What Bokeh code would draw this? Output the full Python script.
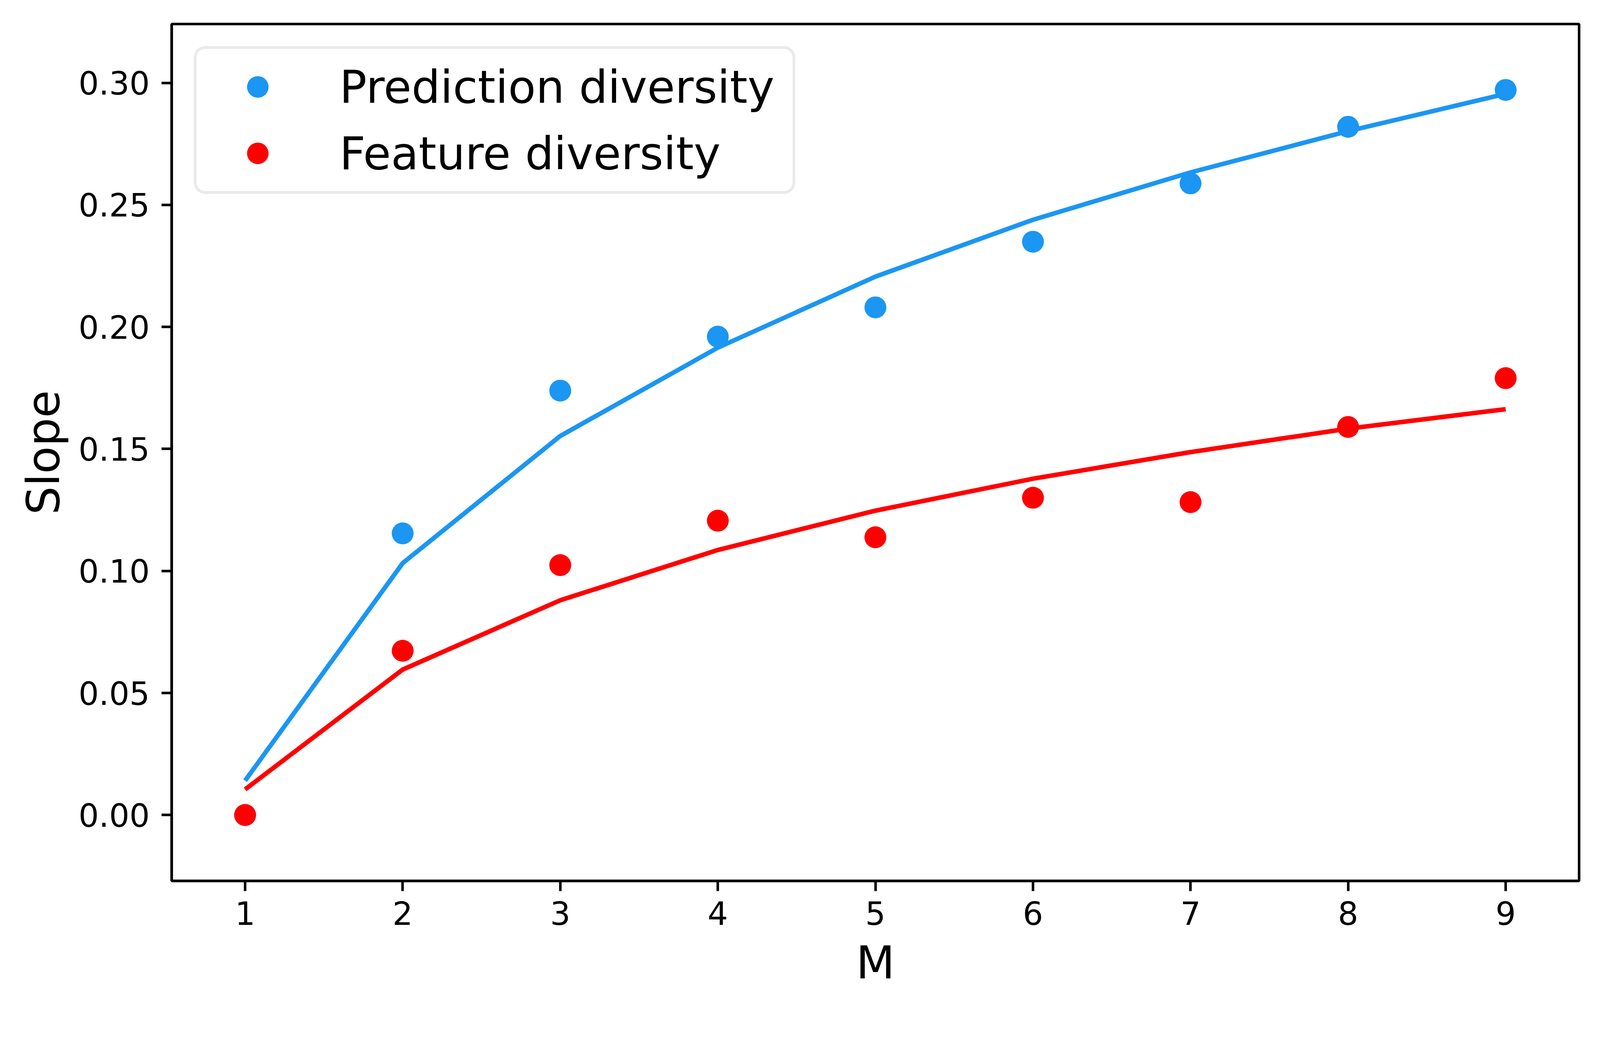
from bokeh.plotting import figure
from bokeh.models import Range1d, FixedTicker, PrintfTickFormatter
from bokeh.embed import file_html
from bokeh.resources import INLINE

# ---- data ----
M = [1, 2, 3, 4, 5, 6, 7, 8, 9]
pred_points = [0.0, 0.1154, 0.1739, 0.1960, 0.2080, 0.2349, 0.2588, 0.2820, 0.2971]
feat_points = [0.0, 0.0673, 0.1024, 0.1206, 0.1138, 0.1300, 0.1282, 0.1590, 0.1790]
pred_fit = [0.0141, 0.1032, 0.1553, 0.1915, 0.2206, 0.2439, 0.2633, 0.2802, 0.2955]
feat_fit = [0.0105, 0.0596, 0.0880, 0.1086, 0.1247, 0.1378, 0.1487, 0.1583, 0.1663]
x_ticks = [1, 2, 3, 4, 5, 6, 7, 8, 9]
y_ticks = [0.0, 0.05, 0.10, 0.15, 0.20, 0.25, 0.30]
series_labels = ["Prediction diversity", "Feature diversity"]
x_label = "M"
y_label = "Slope"

BLUE = "#1B96F3"
RED = "#FF0000"
FONT = "DejaVu Sans"

p = figure(width=4060, height=2560,
           x_range=Range1d(0.534, 9.466), y_range=Range1d(-0.027, 0.3241),
           output_backend="svg", toolbar_location=None,
           min_border_left=439, min_border_right=18,
           min_border_top=61, min_border_bottom=306)

p.background_fill_color = "white"
p.border_fill_color = "white"
p.xgrid.visible = False
p.ygrid.visible = False
p.outline_line_color = "black"
p.outline_line_width = 6.5
p.outline_line_alpha = 1

p.xaxis.ticker = FixedTicker(ticks=x_ticks)
p.yaxis.ticker = FixedTicker(ticks=y_ticks)
p.xaxis.formatter = PrintfTickFormatter(format="%d")
p.yaxis.formatter = PrintfTickFormatter(format="%.2f")
p.xaxis.axis_label = x_label
p.yaxis.axis_label = y_label

for ax in (p.xaxis, p.yaxis):
    ax.axis_line_color = "black"
    ax.axis_line_width = 6.5
    ax.major_tick_line_color = "black"
    ax.major_tick_line_width = 6.5
    ax.major_tick_out = 26
    ax.major_tick_in = 0
    ax.minor_tick_out = 0
    ax.minor_tick_in = 0
    ax.major_label_text_font = FONT
    ax.major_label_text_font_size = "82px"
    ax.major_label_text_color = "black"
    ax.axis_label_text_font = FONT
    ax.axis_label_text_font_size = "115px"
    ax.axis_label_text_font_style = "normal"
    ax.axis_label_text_color = "black"

p.xaxis.major_label_standoff = 26
p.yaxis.major_label_standoff = 30
p.xaxis.axis_label_standoff = 27
p.yaxis.axis_label_standoff = 20

p.line(M, pred_fit, line_color=BLUE, line_width=11.6, line_join="round")
p.line(M, feat_fit, line_color=RED, line_width=11.6, line_join="round")
p.scatter(M, pred_points, size=56, fill_color=BLUE, line_color=None,
          legend_label=series_labels[0])
p.scatter(M, feat_points, size=56, fill_color=RED, line_color=None,
          legend_label=series_labels[1])

lg = p.legend[0]
lg.location = "top_left"
lg.margin = 57
lg.padding = 28
lg.spacing = 32
lg.glyph_height = 138
lg.glyph_width = 257
lg.label_standoff = 81
lg.label_width = 1132
lg.label_text_font = FONT
lg.label_text_font_size = "116px"
lg.label_text_color = "black"
lg.border_line_color = "#D6D6D6"
lg.border_line_width = 7.2
lg.background_fill_color = "white"
lg.background_fill_alpha = 1.0
try:
    lg.border_radius = 29
except Exception:
    pass

open("out.html", "w").write(file_html(p, INLINE))
